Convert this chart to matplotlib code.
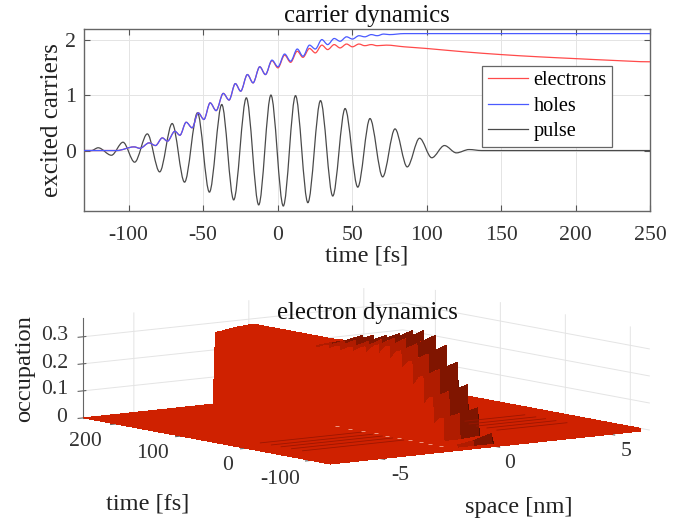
import numpy as np
import matplotlib
matplotlib.use("Agg")
import matplotlib.pyplot as plt
from matplotlib.lines import Line2D
from matplotlib.patches import PathPatch
from matplotlib.path import Path

plt.rcParams['font.family'] = ['Liberation Serif', 'DejaVu Serif']
plt.rcParams['axes.unicode_minus'] = False
plt.rcParams['grid.color'] = '#e4e4e4'
plt.rcParams['grid.linewidth'] = 0.7

# values: turning points of each curve
pulse_t = [-130, -125, -120.5, -111.6, -103.8, -96, -87.5, -79.2, -70.8, -62.5, -53.8, -45.8, -37.5, -29.5,
           -21, -12.7, -4.5, 3.8, 12, 20.3, 28.8, 37, 45.3, 53.8, 62, 70.5, 78.8, 87, 95.3, 103.5, 112,
           120, 128.5, 137, 250]
pulse_v = [0, 0, 0.05, -0.085, 0.15, -0.21, 0.30, -0.385, 0.487, -0.57, 0.68, -0.75, 0.83, -0.89,
           0.95, -0.98, 1.0, -1.0, 0.99, -0.94, 0.90, -0.82, 0.757, -0.66, 0.577, -0.475, 0.39, -0.295, 0.222,
           -0.13, 0.09, -0.042, 0.018, 0, 0]

holes_t = [-130, -108, -96.4, -92.4, -86.3, -82, -77.4, -74, -69, -65.6, -61.4, -57.4, -53.3, -49.5, -45.3,
           -41.3, -36.5, -32.6, -28.4, -24.8, -20.3, -16.5, -12, -8.2, -3.8, 0.2, 4.7, 8.7, 13.2, 17, 21.4,
           25.3, 29.7, 33.6, 38, 41.9, 46.3, 50.2, 54.6, 58.5, 62.9, 66.8, 71.2, 75, 85, 250]
holes_v = [0, 0, 0.066, 0.04, 0.138, 0.09, 0.228, 0.168, 0.348, 0.276, 0.51, 0.41, 0.68, 0.56, 0.86,
           0.72, 1.03, 0.91, 1.207, 1.07, 1.37, 1.22, 1.51, 1.37, 1.63, 1.51, 1.74, 1.61, 1.83, 1.70, 1.90,
           1.83, 2.0, 1.91, 2.02, 1.97, 2.05, 2.01, 2.07, 2.05, 2.09, 2.07, 2.10, 2.09, 2.108, 2.108]

electrons_t = [-130, -108, -96.4, -92.4, -86.3, -82, -77.4, -74, -69, -65.6, -61.4, -57.4, -53.3, -49.5, -45.3,
               -41.3, -36.5, -32.6, -28.4, -24.8, -20.3, -16.5, -12, -8.2, -3.8, 0.2, 4.7, 8.7, 13.2, 17, 21.4,
               25.3, 29.7, 33.6, 38, 41.9, 46.3, 50.2, 54.6, 58.5, 62.9, 66.8, 73, 85, 100, 125, 150, 175, 200,
               225, 250]
electrons_v = [0, 0, 0.066, 0.04, 0.138, 0.09, 0.228, 0.168, 0.348, 0.276, 0.51, 0.41, 0.68, 0.56, 0.86,
               0.72, 1.03, 0.91, 1.207, 1.07, 1.37, 1.22, 1.51, 1.37, 1.62, 1.49, 1.72, 1.59, 1.79, 1.68, 1.84,
               1.76, 1.90, 1.82, 1.91, 1.85, 1.92, 1.87, 1.92, 1.89, 1.91, 1.89, 1.90, 1.87, 1.84, 1.78, 1.73,
               1.69, 1.657, 1.625, 1.60]

x_ticks = [-100, -50, 0, 50, 100, 150, 200, 250]
y_ticks = [0, 1, 2]

# values: heights of the ridge per time row
space_cols = [-7.2, -1.55, -1.45, -1.3, -0.6, 0.2, 0.3, 6.7]
time_rows = [-130, -117.5, -116, -96.5, -95, -80.5, -79, -65.5, -64, -48.5, -47, -31.5, -30, -13.5, -12,
             3.5, 5, 23.5, 25, 43.5, 45, 63.5, 65, 80.5, 82, 100.5, 102, 120, 250]
wall_height = [0, 0, 0.01, 0.015, 0.10, 0.06, 0.17, 0.12, 0.24, 0.18, 0.29, 0.24, 0.32, 0.27, 0.33,
               0.28, 0.325, 0.28, 0.31, 0.28, 0.30, 0.275, 0.295, 0.275, 0.29, 0.27, 0.28, 0.275, 0.265]
shoulder_height = [0, 0, 0.02, 0.015, 0.11, 0.05, 0.185, 0.09, 0.26, 0.13, 0.31, 0.19, 0.34, 0.25, 0.35,
                   0.275, 0.345, 0.28, 0.33, 0.275, 0.315, 0.27, 0.31, 0.265, 0.30, 0.26, 0.285, 0.28, 0.275]
tip_height = [0, 0, 0.04, 0.02, 0.125, 0.05, 0.203, 0.09, 0.28, 0.14, 0.335, 0.20, 0.364, 0.24, 0.374,
              0.27, 0.366, 0.28, 0.346, 0.27, 0.331, 0.26, 0.322, 0.255, 0.314, 0.25, 0.287, 0.28, 0.28]
column_dark = [1, 1, 1, 0.85, 0.62, 0.42, 0.4]
ripple_times = [-45, -28, -12, 3, 20]
ripple_left = [-6, -1.6]
ripple_right_start = [2.45, 2.5, 2.5, 2.6, 2.9]
ripple_right_end = 5.5
speck_times = [65, 45, 25, 5, -12, -30, -47, -64, -79, -95]
space_ticks = [-5, 0, 5]
time_ticks = [-100, 0, 100, 200]
occ_ticks = [0, 0.1, 0.2, 0.3]


def smooth_path(t, v):
    # cubic pieces through the read points, flat at turning points
    slopes = [0.0] * len(t)
    for i in range(1, len(t) - 1):
        if (v[i] - v[i - 1]) * (v[i + 1] - v[i]) > 0:
            slopes[i] = (v[i + 1] - v[i - 1]) / (t[i + 1] - t[i - 1])
    verts = [(t[0], v[0])]
    codes = [Path.MOVETO]
    for i in range(len(t) - 1):
        d = (t[i + 1] - t[i]) / 3
        verts += [(t[i] + d, v[i] + slopes[i] * d), (t[i + 1] - d, v[i + 1] - slopes[i + 1] * d), (t[i + 1], v[i + 1])]
        codes += [Path.CURVE4] * 3
    return Path(verts, codes)


def face_colors(X, Y, Z, scale, base):
    # mplot3d shades on raw data units, which flattens everything here, so work on the box units
    P = np.dstack([X * scale[0], Y * scale[1], Z * scale[2]])
    d1 = P[1:, 1:] - P[:-1, :-1]
    d2 = P[1:, :-1] - P[:-1, 1:]
    n = np.cross(d1, d2)
    n = n / np.linalg.norm(n, axis=2, keepdims=True)
    w = np.clip(-n[:, :, 1] * 1.3, 0, 1)
    factor = 1 - w * (1 - np.array(column_dark))
    fc = np.zeros(n.shape[:2] + (4,))
    fc[:, :, :3] = np.array(base) * factor[:, :, None]
    fc[:, :, 3] = 1
    return fc


fig = plt.figure(figsize=(6.93, 5.21), dpi=100)
W, H = 693, 521
RED, BLUE, DARK = '#ff4a4a', '#4a5aff', '#4a4a4a'

# top panel
ax = fig.add_axes([84 / W, 1 - 211 / H, 566 / W, 182.5 / H])
for t, v, col in [(pulse_t, pulse_v, DARK), (electrons_t, electrons_v, RED), (holes_t, holes_v, BLUE)]:
    ax.add_patch(PathPatch(smooth_path(t, v), fill=False, edgecolor=col, linewidth=0.9, zorder=3))
ax.set_xlim(-130, 250)
ax.set_ylim(-1.09, 2.2)
ax.set_xticks(x_ticks)
ax.set_yticks(y_ticks)
ax.grid(True)
ax.set_axisbelow(True)
ax.tick_params(direction='in', top=True, right=True, length=4, width=0.8, color='#555555',
               labelsize=15.7, labelcolor='#333333')
ax.tick_params(axis='x', pad=11)
ax.tick_params(axis='y', pad=6)
for sp in ax.spines.values():
    sp.set_color('#666666')
    sp.set_linewidth(1.0)
ax.set_xlabel('time [fs]', fontsize=17.6, labelpad=0, color='#222222')
ax.set_ylabel('excited carriers', fontsize=18, labelpad=1, color='#222222')
ax.set_title('carrier dynamics', fontsize=17.8, pad=5, color='#111111')
handles = [Line2D([], [], color=RED, lw=0.9), Line2D([], [], color=BLUE, lw=0.9), Line2D([], [], color=DARK, lw=0.9)]
leg = ax.legend(handles, ['electrons', 'holes', 'pulse'], fontsize=14.6, fancybox=False, framealpha=1,
                edgecolor='#666666', loc='upper left', bbox_to_anchor=((482 - 84) / 566, (211 - 65.5) / 182.5),
                borderaxespad=0, labelspacing=0.3, handlelength=2.0, handletextpad=0.25, borderpad=0.28)
leg.get_frame().set_linewidth(0.9)

# bottom panel
S = 565
cx, cy = 358.9, 381.6
ax3 = fig.add_axes([(cx - S / 2) / W, 1 - (cy + S / 2) / H, S / W, S / H], projection='3d', proj_type='ortho')
ax3.patch.set_alpha(0)
ax3.computed_zorder = False
blank = np.zeros(len(time_rows))
occupation = np.column_stack([blank, blank, wall_height, wall_height, shoulder_height, tip_height, blank, blank])
X, Y = np.meshgrid(space_cols, time_rows)
box = (400, 410, 101)
scale = (box[0] / 13.9, box[1] / 380, box[2] / 0.37)
ax3.plot_surface(X, Y, occupation, facecolors=face_colors(X, Y, occupation, scale, (0.81, 0.13, 0.0)), shade=False,
                 rstride=1, cstride=1, linewidth=0, antialiased=False, zorder=2)
for t, start in zip(ripple_times, ripple_right_start):
    ax3.plot(ripple_left, [t, t], [0, 0], color='#9c1600', lw=0.6, zorder=3)
    ax3.plot([start, ripple_right_end], [t, t], [0, 0], color='#9c1600', lw=0.6, zorder=3)
ax3.plot([-1.4] * len(speck_times), speck_times, [0] * len(speck_times), ls='none', marker='_', ms=3, mew=0.7,
         color='#f09a84', zorder=4)
ax3.set_xlim(-7.2, 6.7, view_margin=0)
ax3.set_ylim(-130, 250, view_margin=0)
ax3.set_zlim(0, 0.37, view_margin=0)
ax3.set_box_aspect(box, zoom=1)
ax3.view_init(elev=8.1, azim=-127)
ax3.set_xticks(space_ticks)
ax3.set_yticks(time_ticks)
ax3.set_zticks(occ_ticks)
ax3.set_xticklabels([])
ax3.set_yticklabels([])
ax3.set_zticklabels([])
for axis in (ax3.xaxis, ax3.yaxis, ax3.zaxis):
    axis.set_pane_color((1, 1, 1, 0))
    axis.pane.set_edgecolor((1, 1, 1, 0))
ax3.xaxis.line.set_color((1, 1, 1, 0))
ax3.yaxis.line.set_color((1, 1, 1, 0))
ax3.zaxis.line.set_color('#666666')
ax3.tick_params(color='#666666')


def label(x, y, text, size=15.7, color='#333333', **kw):
    fig.text(x / W, 1 - y / H, text, fontsize=size, ha='center', va='center', color=color, **kw)


for val, x, y in zip(occ_ticks, [62, 55, 55, 55], [417, 390, 363, 335]):
    label(x, y, '0' if val == 0 else str(val))
for val, x, y in zip(time_ticks, [280, 228, 152, 85], [479, 465, 453, 441]):
    label(x, y, str(val))
for val, x, y in zip(space_ticks, [400, 510, 626], [476, 464, 451]):
    label(x, y, str(val))
label(367, 313, 'electron dynamics', size=17.8, color='#111111')
label(148, 504, 'time [fs]', size=17.6, color='#222222')
label(519, 507, 'space [nm]', size=17.6, color='#222222')
label(25, 369, 'occupation', size=17.6, color='#222222', rotation=90)

fig.savefig('out.png', dpi=100)
